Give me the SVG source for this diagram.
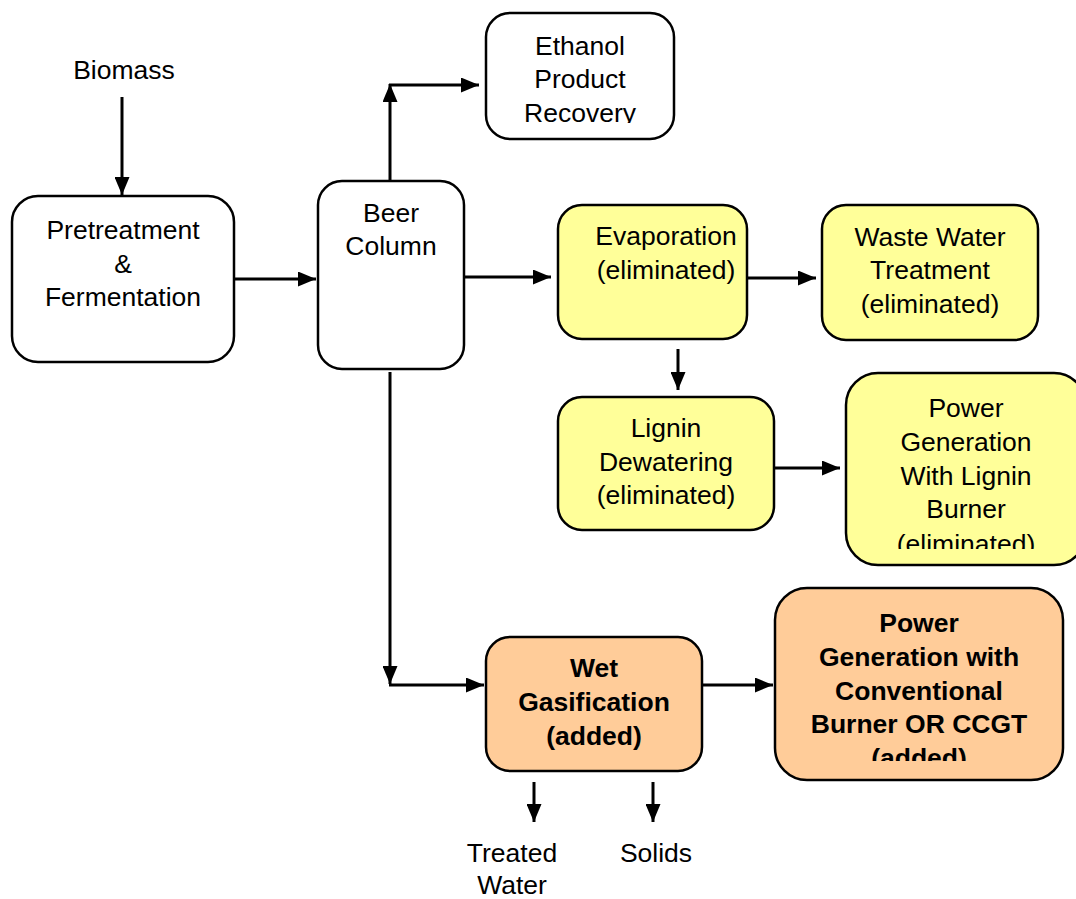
<svg xmlns="http://www.w3.org/2000/svg" width="1076" height="899" viewBox="0 0 1076 899">
<style>
.box{stroke:#000;stroke-width:2.5;}
.w{fill:#fff;}
.y{fill:#ffff99;}
.o{fill:#ffcc99;}
text{font-family:"Liberation Sans",Arial,sans-serif;font-size:26.5px;text-anchor:middle;fill:#000;}
.b{font-weight:bold;}
.c line{stroke:#000;stroke-width:3;fill:none;}
</style>
<defs>
<marker id="ah" viewBox="0 0 18 15" refX="18" refY="7.5" markerWidth="18" markerHeight="15" markerUnits="userSpaceOnUse" orient="auto">
<path d="M0,0 L18,7.5 L0,15 Z" fill="#000"/>
</marker>
<clipPath id="cEth"><rect x="486" y="13" width="188" height="110"/></clipPath>
<clipPath id="cPL"><rect x="846" y="373" width="240" height="176"/></clipPath>
<clipPath id="cPC"><rect x="775" y="588" width="288" height="173"/></clipPath>
</defs>
<rect width="1076" height="899" fill="#fff"/>
<g id="biomass"><text x="124" y="79">Biomass</text></g>
<g id="pretreatment">
<rect class="box w" x="12" y="196" width="222" height="166" rx="26"/>
<text x="123" y="239">Pretreatment</text><text x="123" y="273">&amp;</text><text x="123" y="306">Fermentation</text>
</g>
<g id="beer">
<rect class="box w" x="318" y="181" width="146" height="188" rx="24"/>
<text x="391" y="222">Beer</text><text x="391" y="255">Column</text>
</g>
<g id="ethanol">
<rect class="box w" x="486" y="13" width="188" height="126" rx="24"/>
<g clip-path="url(#cEth)"><text x="580" y="55">Ethanol</text><text x="580" y="88">Product</text><text x="580" y="122">Recovery</text></g>
</g>
<g id="evaporation">
<rect class="box y" x="558" y="205" width="189" height="134" rx="24"/>
<text x="666" y="245">Evaporation</text><text x="666" y="279">(eliminated)</text>
</g>
<g id="wastewater">
<rect class="box y" x="822" y="205" width="216" height="135" rx="24"/>
<text x="930" y="246">Waste Water</text><text x="930" y="279">Treatment</text><text x="930" y="313">(eliminated)</text>
</g>
<g id="lignin">
<rect class="box y" x="558" y="397" width="216" height="133" rx="24"/>
<text x="666" y="437">Lignin</text><text x="666" y="471">Dewatering</text><text x="666" y="504">(eliminated)</text>
</g>
<g id="powerlignin">
<rect class="box y" x="846" y="373" width="240" height="192" rx="32"/>
<g clip-path="url(#cPL)"><text x="966" y="417">Power</text><text x="966" y="451">Generation</text><text x="966" y="485">With Lignin</text><text x="966" y="518">Burner</text><text x="966" y="553">(eliminated)</text></g>
</g>
<g id="wetgas">
<rect class="box o" x="486" y="637" width="216" height="134" rx="24"/>
<text class="b" x="594" y="677">Wet</text><text class="b" x="594" y="711">Gasification</text><text class="b" x="594" y="745">(added)</text>
</g>
<g id="powerconv">
<rect class="box o" x="775" y="588" width="288" height="192" rx="32"/>
<g clip-path="url(#cPC)"><text class="b" x="919" y="632">Power</text><text class="b" x="919" y="666">Generation with</text><text class="b" x="919" y="700">Conventional</text><text class="b" x="919" y="733">Burner OR CCGT</text><text class="b" x="919" y="767">(added)</text></g>
</g>
<g id="outputs"><text x="512" y="862">Treated</text><text x="512" y="894">Water</text><text x="656" y="862">Solids</text></g>
<g class="c" id="connectors">
<line x1="122" y1="97" x2="122" y2="195" marker-end="url(#ah)"/>
<line x1="234" y1="279" x2="316" y2="279" marker-end="url(#ah)"/>
<line x1="390" y1="181" x2="390" y2="84" marker-end="url(#ah)"/>
<line x1="389" y1="85" x2="479" y2="85" marker-end="url(#ah)"/>
<line x1="464" y1="277" x2="551" y2="277" marker-end="url(#ah)"/>
<line x1="747" y1="278" x2="816" y2="278" marker-end="url(#ah)"/>
<line x1="678" y1="349" x2="678" y2="390" marker-end="url(#ah)"/>
<line x1="774" y1="468" x2="840" y2="468" marker-end="url(#ah)"/>
<line x1="390" y1="372" x2="390" y2="684" marker-end="url(#ah)"/>
<line x1="389" y1="685" x2="484" y2="685" marker-end="url(#ah)"/>
<line x1="702" y1="685" x2="773" y2="685" marker-end="url(#ah)"/>
<line x1="534" y1="782" x2="534" y2="822" marker-end="url(#ah)"/>
<line x1="653" y1="782" x2="653" y2="822" marker-end="url(#ah)"/>
</g>
</svg>
